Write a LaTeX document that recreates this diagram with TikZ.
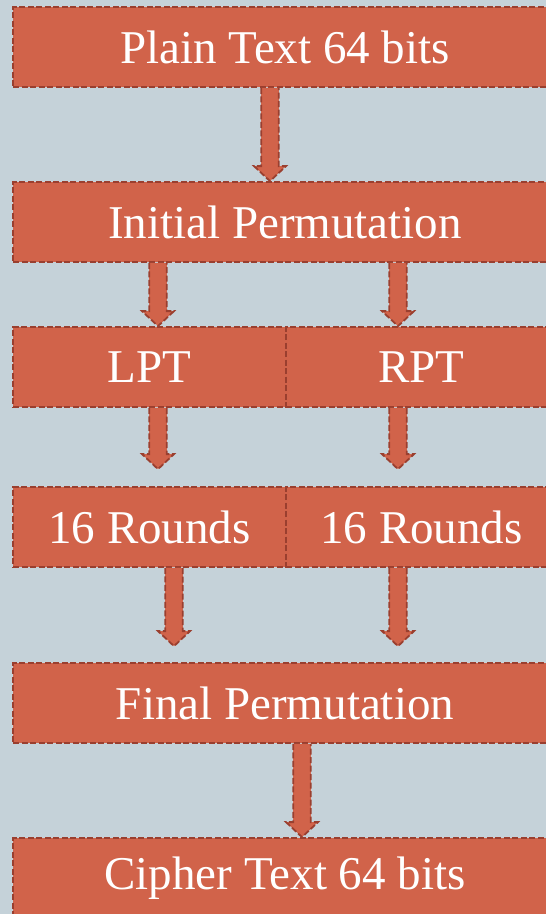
\documentclass[tikz,border=0pt]{standalone}
\usepackage{fontspec}
\setmainfont{Liberation Serif}
\newfontfamily\desfont{Liberation Serif}
\usetikzlibrary{calc}

\definecolor{bgcol}{HTML}{C5D2D9}
\definecolor{boxfill}{HTML}{D1634A}
\definecolor{boxedge}{HTML}{9A3F2F}

\tikzset{
  desbox/.style={rectangle, fill=boxfill, draw=boxedge, line width=1.8pt,
    dash pattern=on 6pt off 2.5pt, text=white, minimum height=80pt,
    inner sep=0pt, font=\desfont\fontsize{47}{47}\selectfont},
  arrowbody/.style={fill=boxfill, draw=boxedge, line width=1.8pt,
    dash pattern=on 6pt off 2.5pt, line join=miter},
}

% block arrow from a start point straight down to a tip point
\newcommand\blockarrow[2]{%
  \path[arrowbody] let \p1=(#1), \p2=(#2) in
    (\x1-8.8pt,\y1) -- (\x1-8.8pt,\y2+15pt) -- (\x1-16pt,\y2+15pt) --
    (\x1,\y2) -- (\x1+16pt,\y2+15pt) -- (\x1+8.8pt,\y2+15pt) -- (\x1+8.8pt,\y1);}

\begin{document}
\begin{tikzpicture}[x=1pt,y=-1pt]
  \useasboundingbox (0,0) rectangle (546,914);
  \clip (0,0) rectangle (546,914);
  \fill[bgcol] (0,0) rectangle (546,914);

  % stages of the cipher
  \node[desbox, minimum width=544pt] (plain)  at (285,47)  {Plain Text 64 bits};
  \node[desbox, minimum width=544pt] (init)   at (285,222) {Initial Permutation};
  \node[desbox, minimum width=273pt] (lpt)    at (149.5,367) {LPT};
  \node[desbox, minimum width=271pt] (rpt)    at (421.5,367) {RPT};
  \node[desbox, minimum width=273pt] (r1)     at (149.5,527) {16 Rounds};
  \node[desbox, minimum width=271pt] (r2)     at (421.5,527) {16 Rounds};
  \node[desbox, minimum width=544pt] (final)  at (285,703) {Final Permutation};
  \node[desbox, minimum width=544pt] (cipher) at (285,878) {Cipher Text 64 bits};

  % arrow start and tip points
  \coordinate (a1s) at ($(plain.south)+(-15,0)$);
  \coordinate (a1e) at (a1s |- init.north);
  \coordinate (a2ls) at ($(init.south)+(-127,0)$);
  \coordinate (a2le) at (a2ls |- lpt.north);
  \coordinate (a2rs) at ($(init.south)+(113,0)$);
  \coordinate (a2re) at (a2rs |- rpt.north);
  \coordinate (a3ls) at ($(lpt.south)+(8.5,0)$);
  \coordinate (a3le) at ($(a3ls |- r1.north)+(0,-17)$);
  \coordinate (a3rs) at ($(rpt.south)+(-23.5,0)$);
  \coordinate (a3re) at ($(a3rs |- r2.north)+(0,-17)$);
  \coordinate (a4ls) at ($(r1.south)+(24.5,0)$);
  \coordinate (a4le) at ($(a4ls |- final.north)+(0,-16)$);
  \coordinate (a4rs) at ($(r2.south)+(-23.5,0)$);
  \coordinate (a4re) at ($(a4rs |- final.north)+(0,-16)$);
  \coordinate (a5s) at ($(final.south)+(17,0)$);
  \coordinate (a5e) at (a5s |- cipher.north);

  \blockarrow{a1s}{a1e}
  \blockarrow{a2ls}{a2le}
  \blockarrow{a2rs}{a2re}
  \blockarrow{a3ls}{a3le}
  \blockarrow{a3rs}{a3re}
  \blockarrow{a4ls}{a4le}
  \blockarrow{a4rs}{a4re}
  \blockarrow{a5s}{a5e}
\end{tikzpicture}
\end{document}
